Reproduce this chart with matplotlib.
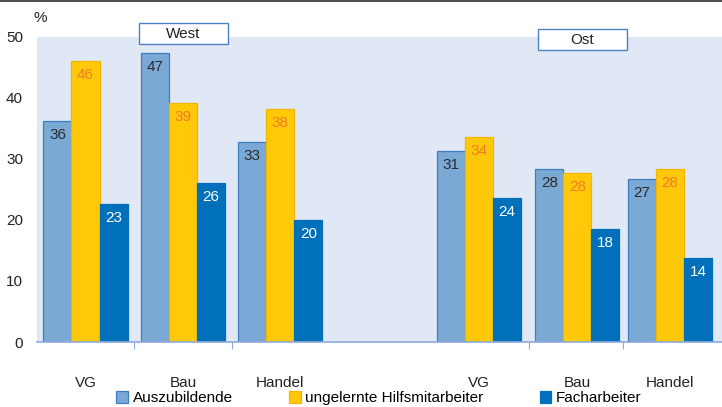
import matplotlib.pyplot as plt
import matplotlib.patches as mpatches
from matplotlib.lines import Line2D
import numpy as np

plt.rcParams['font.family'] = ['Liberation Sans', 'DejaVu Sans']

# Data (percent)
categories = ['VG', 'Bau', 'Handel', 'VG', 'Bau', 'Handel']
regions = ['West', 'Ost']
series = ['Auszubildende', 'ungelernte Hilfsmitarbeiter', 'Facharbeiter']
azubi = [36.2, 47.4, 32.8, 31.3, 28.4, 26.7]
ungelernt = [46.1, 39.2, 38.2, 33.6, 27.7, 28.4]
fach = [22.6, 26.1, 20.0, 23.6, 18.5, 13.8]

colors = ['#7BA9D6', '#FFC90A', '#0070BB']
edges = ['#3D7CC0', '#F5B400', '#0070BB']
label_colors = ['#2B2B2B', '#F07D22', 'white']

fig = plt.figure(figsize=(7.22, 4.07), dpi=100)
ax = fig.add_axes([37 / 722, 65 / 407, 685 / 722, 305 / 407])
ax.set_facecolor('#E1E8F5')

# West groups at 0..2, empty slot at 3, Ost groups at 4..6
x = np.array([0, 1, 2, 4.04, 5.05, 6], dtype=float)
w = 0.288
values = [azubi, ungelernt, fach]
for i, vals in enumerate(values):
    pos = x + (i - 1) * w
    ax.bar(pos, vals, width=w, color=colors[i], edgecolor=edges[i], linewidth=0.9,
           label=series[i])
    for px, v in zip(pos, vals):
        ax.annotate(f"{round(v)}", (px, v), xytext=(0, -10), textcoords='offset points',
                    ha='center', va='center', fontsize=11, color=label_colors[i])

ax.set_xlim(-0.498, 6.535)
ax.set_ylim(0, 50)
ax.set_yticks(range(0, 51, 10))
ax.set_xticks(x)
ax.set_xticklabels(categories, fontsize=11, color='#222222')
ax.set_xticks([0.5, 1.5, 4.55, 5.52], minor=True)
ax.tick_params(axis='x', which='major', length=0, pad=24.5)
ax.tick_params(axis='x', which='minor', length=5, color='#8FAADC', width=0.8)
ax.tick_params(axis='y', length=0, labelsize=11, pad=10, labelcolor='#222222')
for s in ['top', 'right', 'left']:
    ax.spines[s].set_visible(False)
ax.spines['bottom'].set_color('#8FAADC')
ax.spines['bottom'].set_linewidth(1.2)

fig.text(40 / 722, 1 - 18 / 407, '%', ha='center', va='center', fontsize=11, color='#222222')

# region boxes
for name, (bx, by) in zip(regions, [(139, 23), (538, 29)]):
    rect = mpatches.Rectangle((bx / 722, 1 - (by + 21) / 407), 89 / 722, 21 / 407,
                              transform=fig.transFigure, facecolor='white',
                              edgecolor='#4F7FC4', linewidth=1.0, zorder=5)
    fig.add_artist(rect)
    fig.text((bx + 44.5) / 722, 1 - (by + 10.5) / 407, name, ha='center', va='center',
             fontsize=11, color='#222222', zorder=6)

# top rule
fig.add_artist(Line2D([0, 1], [0.997, 0.997], transform=fig.transFigure,
                      color='#505050', linewidth=1.5))

handles = [mpatches.Patch(facecolor=colors[i], edgecolor=edges[i], linewidth=0.9)
           for i in range(3)]
fig.legend(handles, series, loc='center', bbox_to_anchor=(0.525, 0.022), ncol=3,
           frameon=False, fontsize=11, handlelength=0.75, handleheight=0.85,
           handletextpad=0.3, columnspacing=3.7, borderaxespad=0, borderpad=0)

fig.savefig('out.png', dpi=100)
